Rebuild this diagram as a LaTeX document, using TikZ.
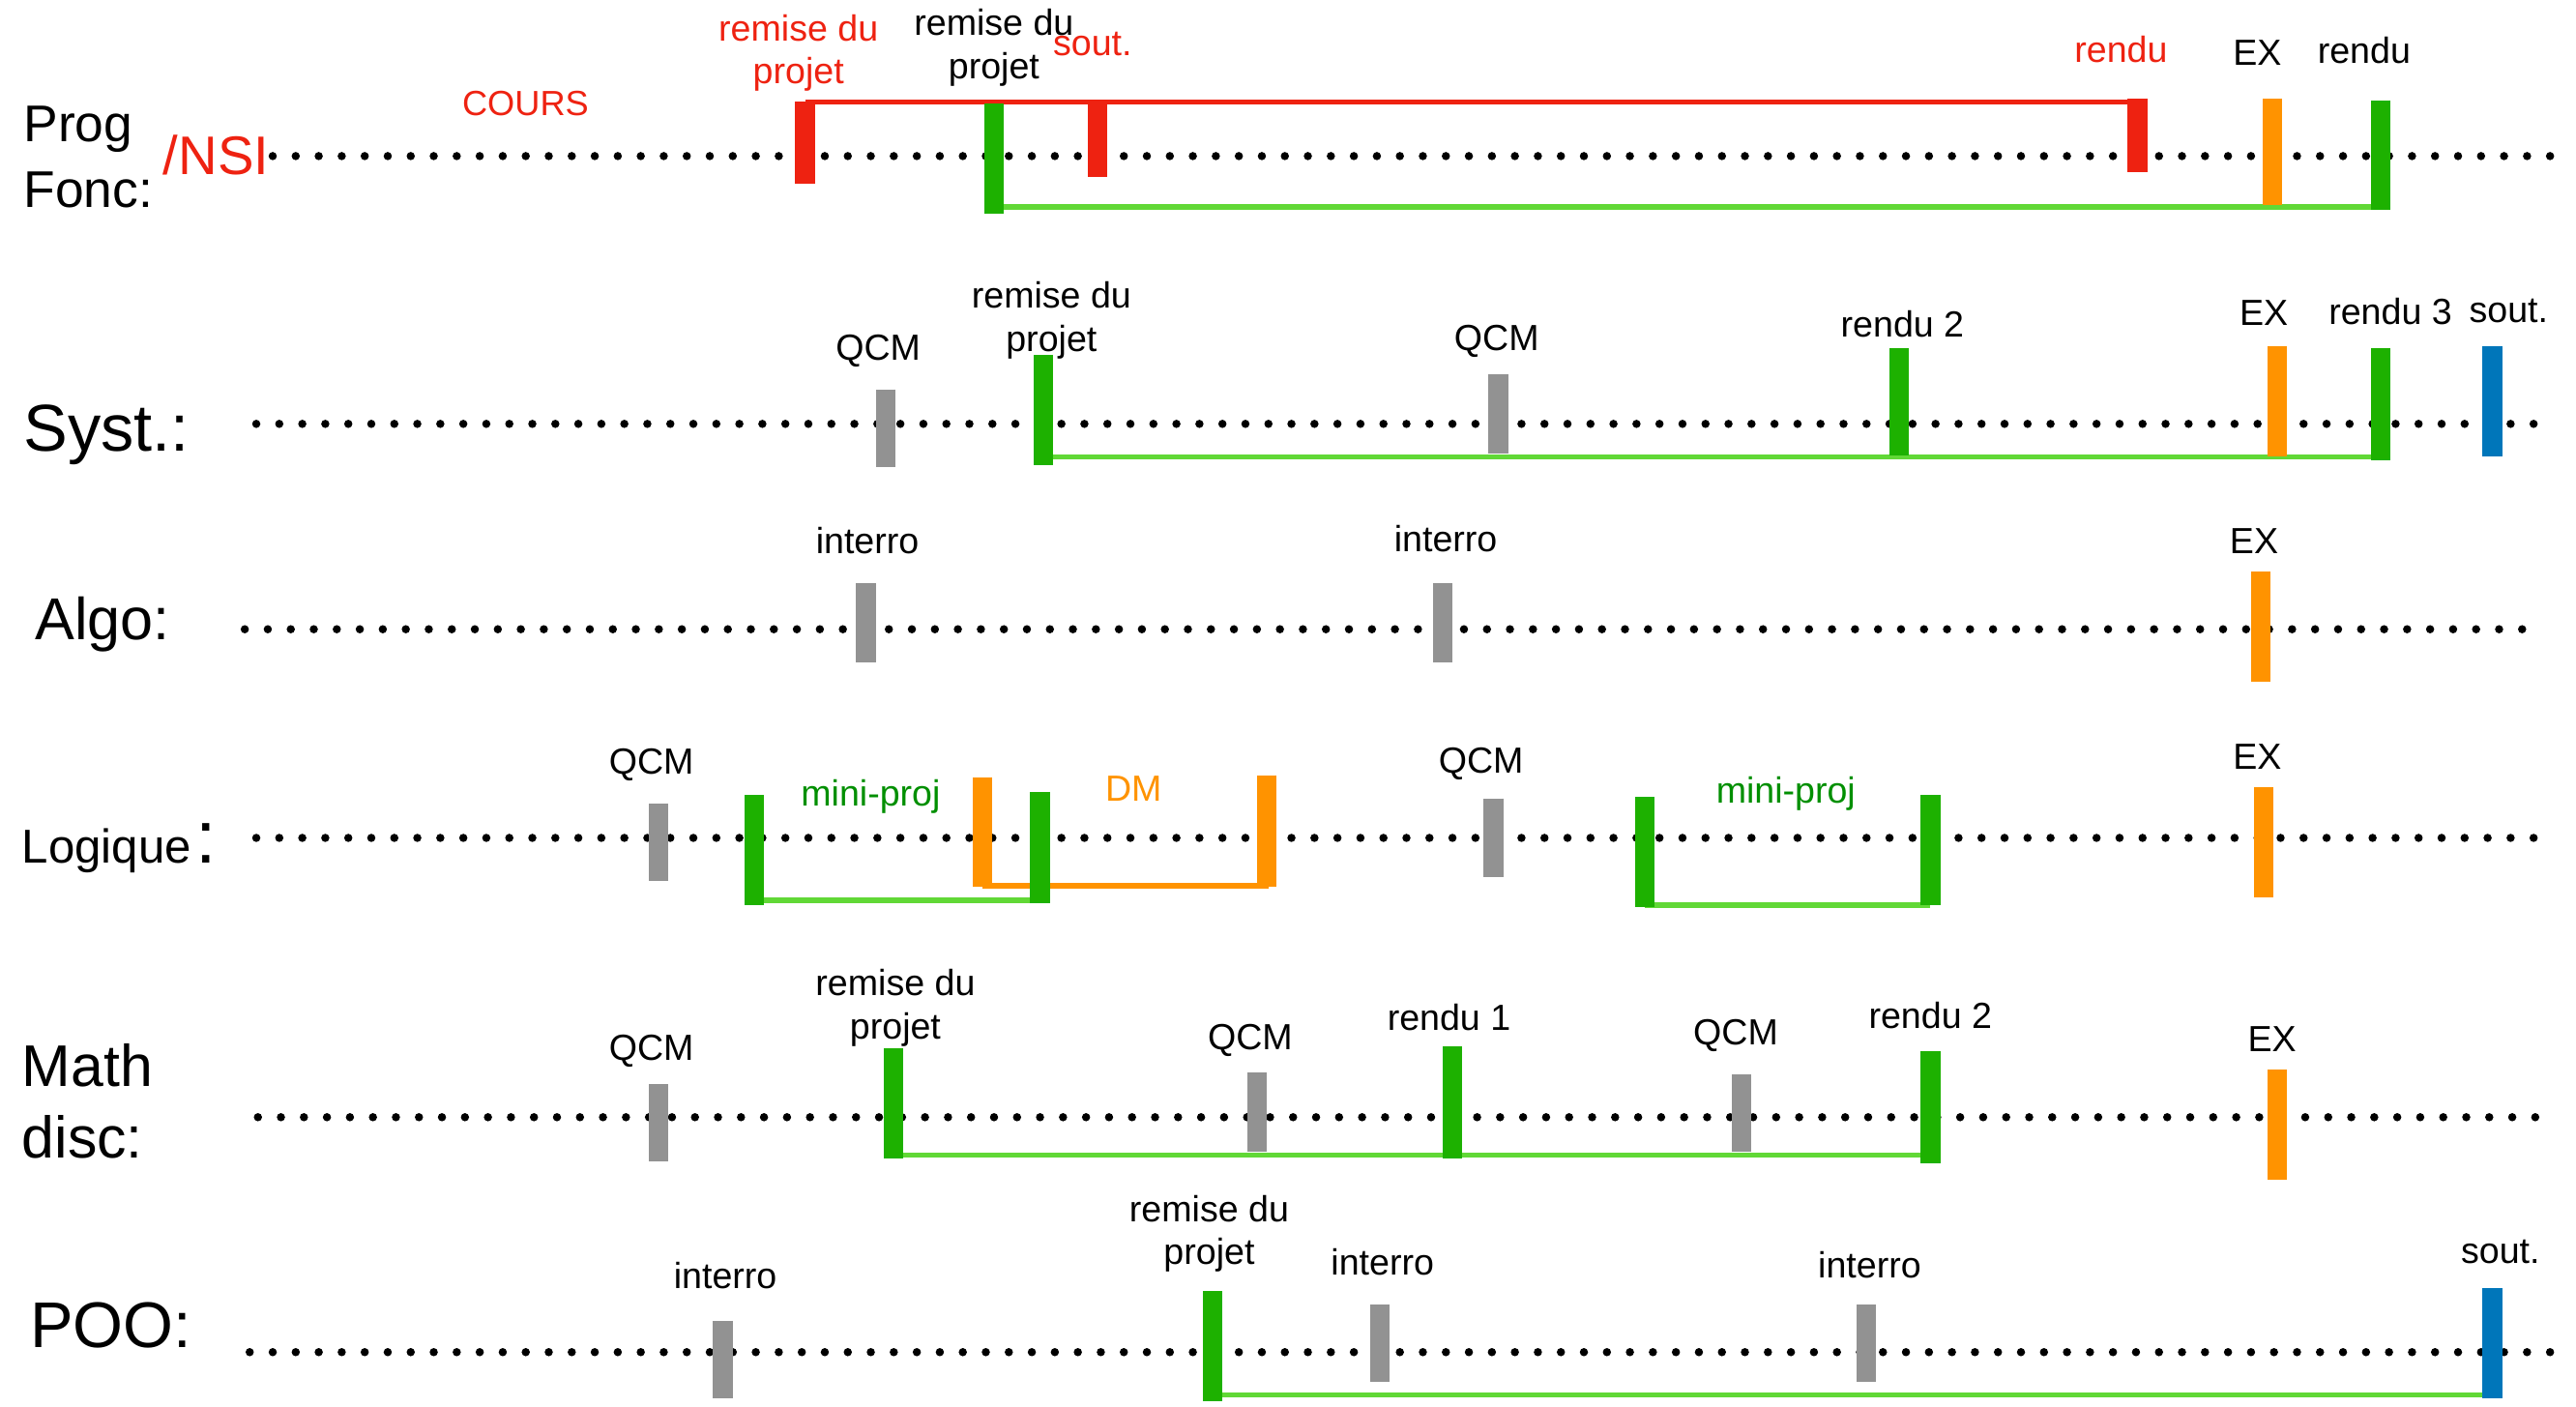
\documentclass[tikz,border=0pt]{standalone}
\usepackage{fontspec}
\setmainfont{Liberation Sans}
\definecolor{cred}{RGB}{238,34,17}
\definecolor{cgreen}{RGB}{29,177,0}
\definecolor{clgreen}{RGB}{97,216,54}
\definecolor{corange}{RGB}{255,147,0}
\definecolor{cgray}{RGB}{146,146,146}
\definecolor{cblue}{RGB}{0,118,186}
\definecolor{cdgreen}{RGB}{0,143,0}
\begin{document}
\begin{tikzpicture}[x=0.017cm,y=-0.017cm,
  dots/.style={line width=0.085cm,line cap=round,dash pattern=on 0pt off 0.238cm},
  bar/.style={line width=0.204cm},
  link/.style={line width=0.055cm},
  lbl/.style={inner sep=0pt,font=\fontsize{10.7}{12.7}\selectfont,align=center,anchor=base},
  lbl2/.style={inner sep=0pt,font=\fontsize{10.7}{12.7}\selectfont,align=center,anchor=south},
  hd/.style={inner sep=0pt,anchor=base west}]
\useasboundingbox (0,0) rectangle (1568,856);
\fill[white] (0,0) rectangle (1568,856);

% ---------- dotted time lines
\draw[dots] (166,95) -- (1556,95);
\draw[dots] (156,258) -- (1556,258);
\draw[dots] (149,383) -- (1548,383);
\draw[dots] (156,510) -- (1552,510);
\draw[dots] (157,680) -- (1556,680);
\draw[dots] (152,823) -- (1554,823);

% ---------- row 1 : Prog Fonc
\node[hd,font=\fontsize{15.2}{18}\selectfont] (prog) at (14,86) {Prog};
\node[hd,font=\fontsize{15.2}{18}\selectfont] (fonc) at (14,126) {Fonc:};
\node[hd,font=\fontsize{16}{19}\selectfont,text=cred] (nsi) at (99,106) {/NSI};
\node[hd,font=\fontsize{10.3}{12}\selectfont,text=cred] (cours) at (281,70.6) {COURS};
\node[lbl2,text=cred] (pfa) at (486,56) {remise du\\projet};
\node[lbl2] (pfb) at (605,52.7) {remise du\\projet};
\node[lbl,text=cred] (pfc) at (665,33.7) {sout.};
\node[lbl,text=cred] (pfd) at (1291,37.7) {rendu};
\node[lbl] (pfe) at (1374,39.6) {EX};
\node[lbl] (pff) at (1439,38.8) {rendu};
\draw[link,cred] (490,62) -- (1301,62);
\draw[link,clgreen] (605,126) -- (1449,126);
\draw[bar,cred] (490,62) -- (490,112);
\draw[bar,cgreen] (605,63) -- (605,130);
\draw[bar,cred] (668,62) -- (668,108);
\draw[bar,cred] (1301,60) -- (1301,105);
\draw[bar,corange] (1383,60) -- (1383,125);
\draw[bar,cgreen] (1449,61) -- (1449,128);

% ---------- row 2 : Syst.
\node[hd,font=\fontsize{19.5}{22}\selectfont] (syst) at (14,274.6) {Syst.:};
\node[lbl] (sya) at (534.5,219) {QCM};
\node[lbl2] (syb) at (640,219) {remise du\\projet};
\node[lbl] (syc) at (911,213.5) {QCM};
\node[lbl] (syd) at (1158,205) {rendu 2};
\node[lbl] (sye) at (1378,197.8) {EX};
\node[lbl] (syf) at (1455,197.3) {rendu 3};
\node[lbl] (syg) at (1527,196) {sout.};
\draw[link,clgreen] (635,278) -- (1449,278);
\draw[bar,cgray] (539,237) -- (539,284);
\draw[bar,cgreen] (635,216) -- (635,283);
\draw[bar,cgray] (912,228) -- (912,276);
\draw[bar,cgreen] (1156,212) -- (1156,277);
\draw[bar,corange] (1386,211) -- (1386,278);
\draw[bar,cgreen] (1449,212) -- (1449,280);
\draw[bar,cblue] (1517,211) -- (1517,278);

% ---------- row 3 : Algo
\node[hd,font=\fontsize{17.4}{20}\selectfont] (algo) at (21,389.5) {Algo:};
\node[lbl] (ala) at (528,336.9) {interro};
\node[lbl] (alb) at (880,336) {interro};
\node[lbl] (alc) at (1372,336.8) {EX};
\draw[bar,cgray] (527,355) -- (527,403);
\draw[bar,cgray] (878,355) -- (878,403);
\draw[bar,corange] (1376,348) -- (1376,415);

% ---------- row 4 : Logique
\node[hd,font=\fontsize{14}{17}\selectfont] (logi) at (13,525.5) {Logique};
\node[hd,font=\fontsize{22}{24}\selectfont] (logc) at (119,525.5) {:};
\node[lbl] (loa) at (396.5,471) {QCM};
\node[lbl,text=cdgreen] (lob) at (530,490.5) {mini-proj};
\node[lbl,text=corange] (loc) at (690,487.5) {DM};
\node[lbl] (lod) at (901.5,470.4) {QCM};
\node[lbl,text=cdgreen] (loe) at (1087,489) {mini-proj};
\node[lbl] (lof) at (1374,468.5) {EX};
\draw[link,clgreen] (459,548) -- (633,548);
\draw[link,corange] (598,539) -- (772,539);
\draw[link,clgreen] (1001,551) -- (1175,551);
\draw[bar,cgray] (401,489) -- (401,536);
\draw[bar,cgreen] (459,484) -- (459,551);
\draw[bar,corange] (598,473) -- (598,540);
\draw[bar,cgreen] (633,482) -- (633,550);
\draw[bar,corange] (771,472) -- (771,540);
\draw[bar,cgray] (909,486) -- (909,534);
\draw[bar,cgreen] (1001,485) -- (1001,552);
\draw[bar,cgreen] (1175,484) -- (1175,551);
\draw[bar,corange] (1378,479) -- (1378,546);

% ---------- row 5 : Math disc
\node[hd,font=\fontsize{17.3}{20}\selectfont] (math) at (13,661.5) {Math};
\node[hd,font=\fontsize{17.3}{20}\selectfont] (disc) at (13,705) {disc:};
\node[lbl] (maa) at (396.5,645.6) {QCM};
\node[lbl2] (mab) at (545,637.4) {remise du\\projet};
\node[lbl] (mac) at (761,639) {QCM};
\node[lbl] (mad) at (882,627) {rendu 1};
\node[lbl] (mae) at (1056.5,635.7) {QCM};
\node[lbl] (maf) at (1175,625.8) {rendu 2};
\node[lbl] (mag) at (1383,640) {EX};
\draw[link,clgreen] (544,703) -- (1181,703);
\draw[bar,cgray] (401,660) -- (401,707);
\draw[bar,cgreen] (544,638) -- (544,705);
\draw[bar,cgray] (765,653) -- (765,701);
\draw[bar,cgreen] (884,637) -- (884,705);
\draw[bar,cgray] (1060,654) -- (1060,701);
\draw[bar,cgreen] (1175,640) -- (1175,708);
\draw[bar,corange] (1386,651) -- (1386,718);

% ---------- row 6 : POO
\node[hd,font=\fontsize{19}{22}\selectfont] (poo) at (18,820) {POO:};
\node[lbl] (poa) at (441.5,784) {interro};
\node[lbl2] (pob) at (736,774.7) {remise du\\projet};
\node[lbl] (poc) at (841.5,776) {interro};
\node[lbl] (pod) at (1138,778) {interro};
\node[lbl] (poe) at (1522,768.7) {sout.};
\draw[link,clgreen] (738,849) -- (1512,849);
\draw[bar,cgray] (440,804) -- (440,851);
\draw[bar,cgreen] (738,786) -- (738,853);
\draw[bar,cgray] (840,794) -- (840,841);
\draw[bar,cgray] (1136,794) -- (1136,841);
\draw[bar,cblue] (1517,784) -- (1517,851);
\end{tikzpicture}
\end{document}
